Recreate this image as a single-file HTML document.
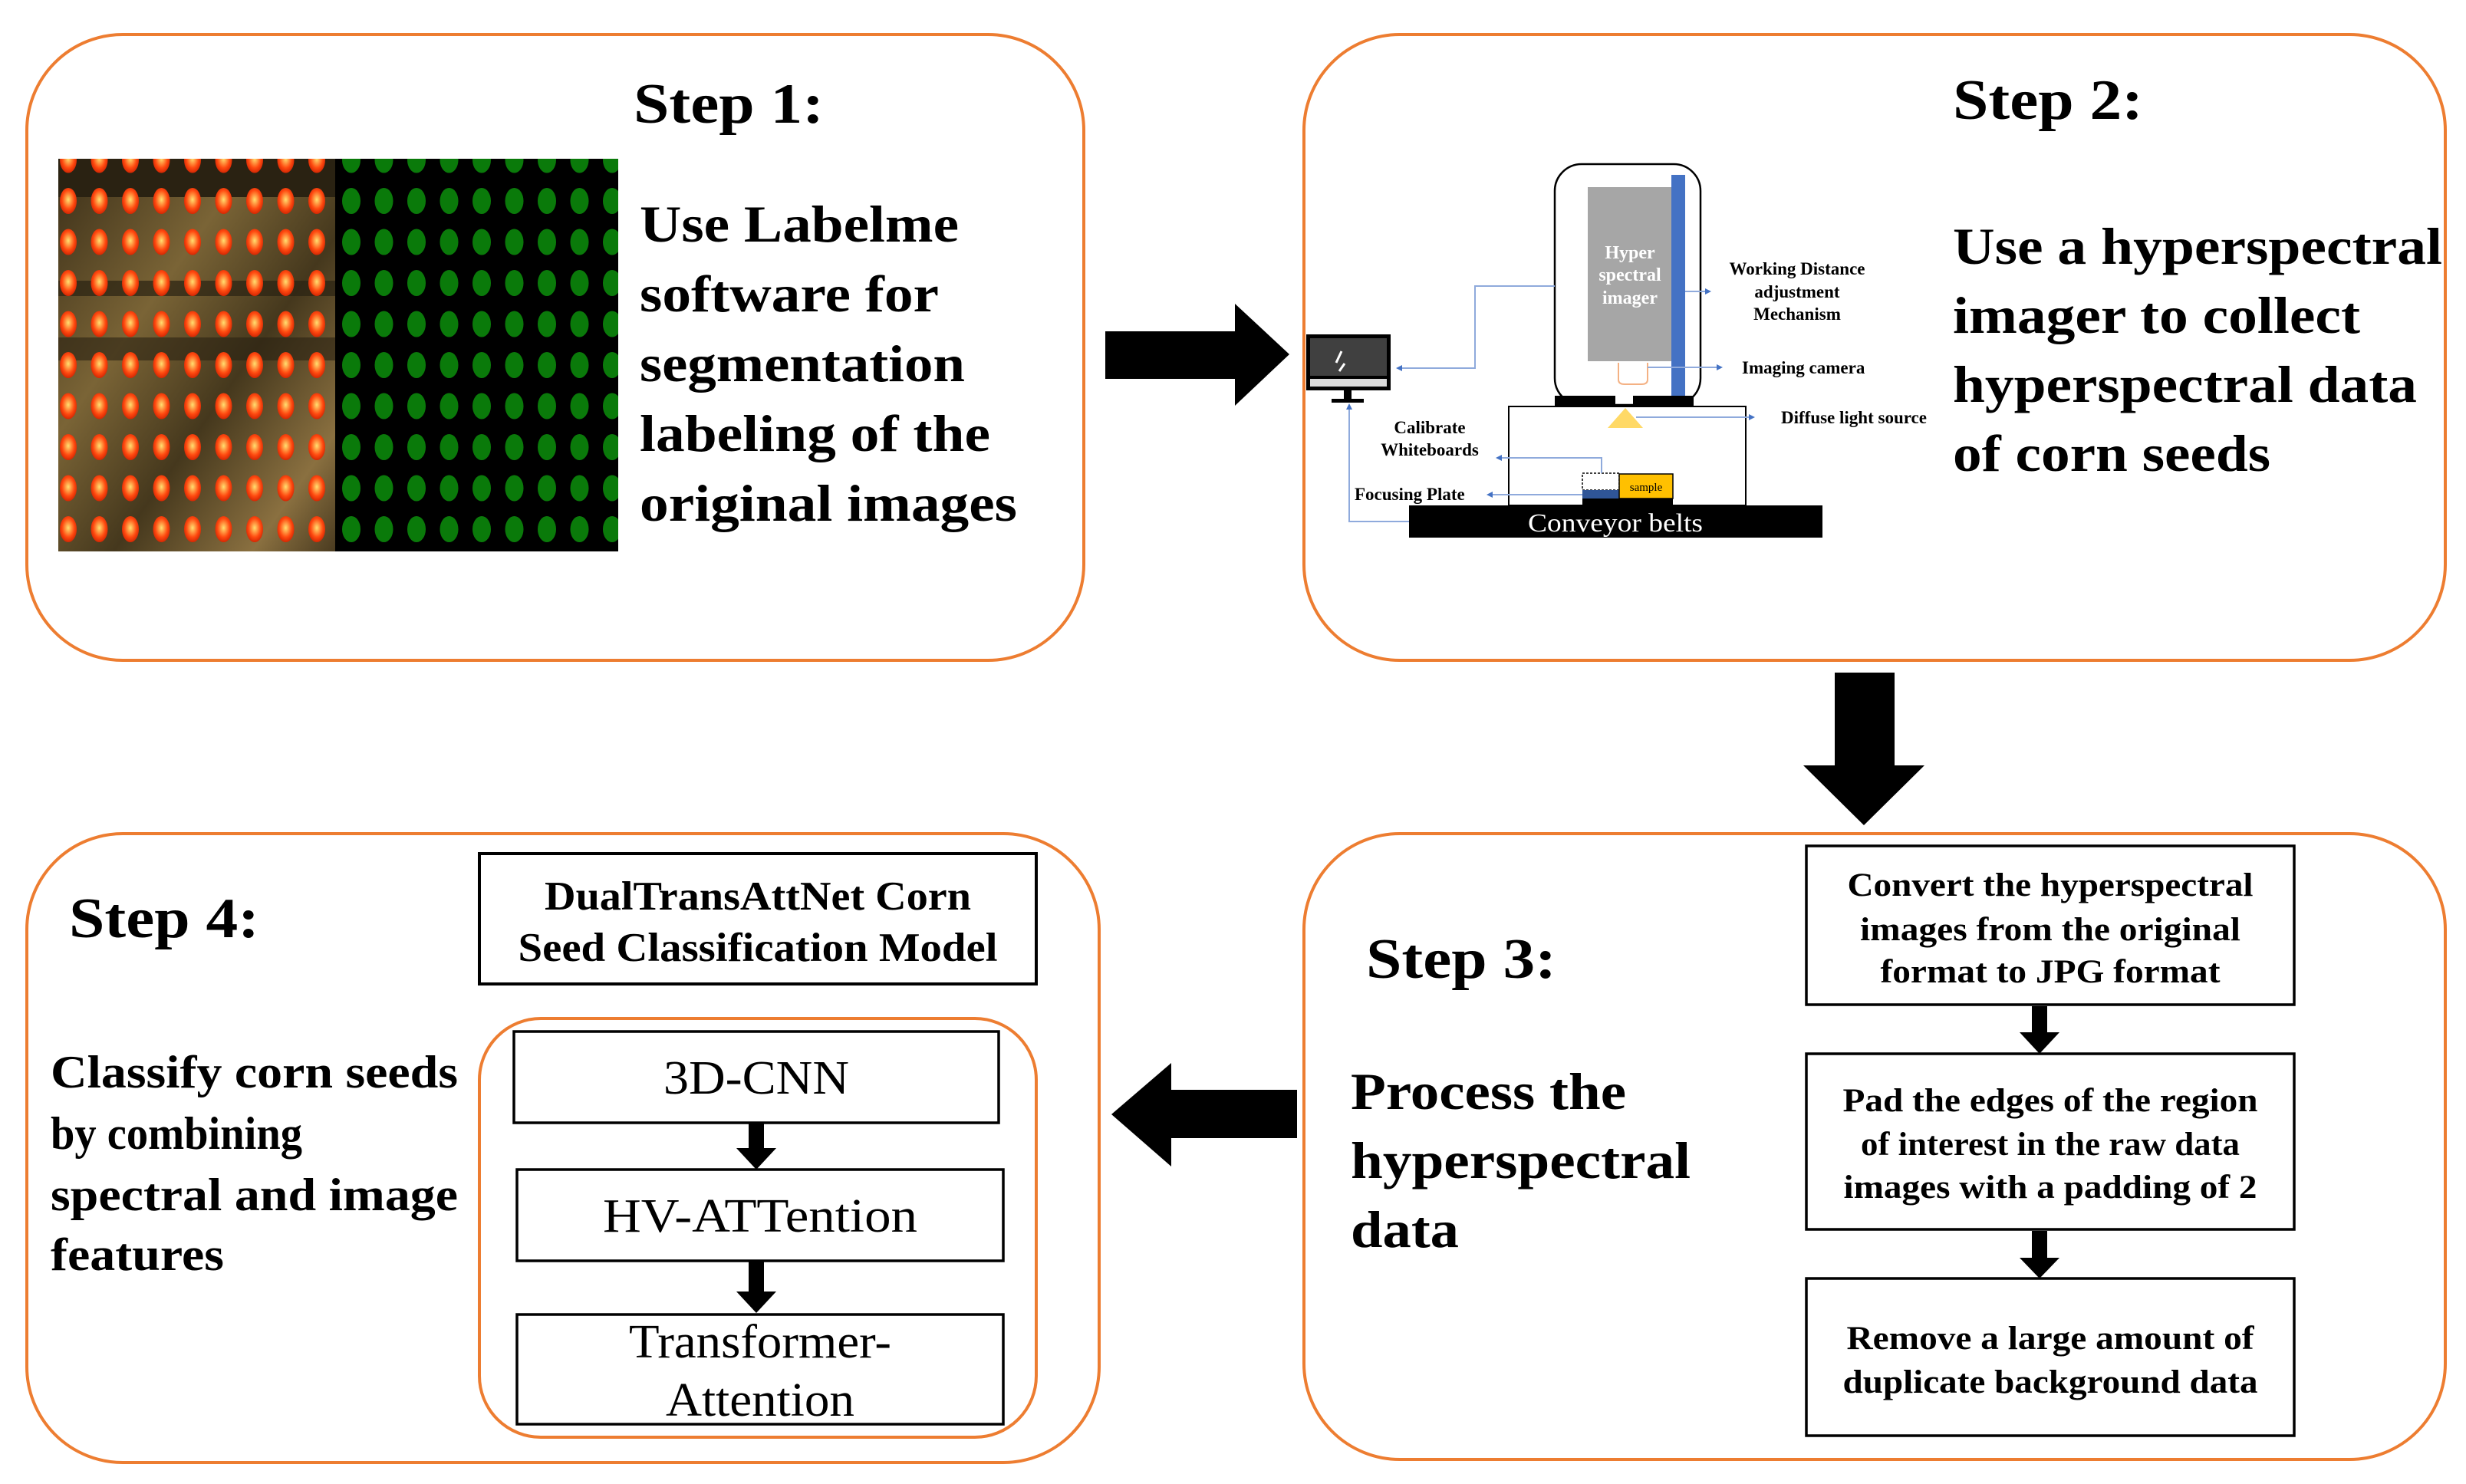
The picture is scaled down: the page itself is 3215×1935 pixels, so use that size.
<!DOCTYPE html>
<html><head><meta charset="utf-8"><style>
html,body{margin:0;padding:0;background:#fff;font-family:"Liberation Serif","DejaVu Serif",serif}
svg{display:block;font-family:"Liberation Serif","DejaVu Serif",serif}
svg text{font-family:"Liberation Serif","DejaVu Serif",serif}
</style></head><body>
<svg width="3215" height="1935" viewBox="0 0 3215 1935" xmlns="http://www.w3.org/2000/svg" font-family="Liberation Serif, DejaVu Serif, serif">
<defs>
<radialGradient id="gl" cx="0.5" cy="0.45" r="0.6">
<stop offset="0" stop-color="#ffe070"/><stop offset="0.6" stop-color="#ff4a10"/><stop offset="1" stop-color="#c81e00"/>
</radialGradient>
<pattern id="pr" patternUnits="userSpaceOnUse" x="69" y="234" width="40.5" height="53.5">
<ellipse cx="20" cy="28" rx="11" ry="17" fill="url(#gl)"/>
</pattern>
<pattern id="pg" patternUnits="userSpaceOnUse" x="437" y="234" width="42.5" height="53.5">
<ellipse cx="21" cy="28" rx="12" ry="17" fill="#0a7a0a"/>
</pattern>
<linearGradient id="bg1" x1="0" y1="0" x2="1" y2="1">
<stop offset="0" stop-color="#3a2e18"/><stop offset="0.35" stop-color="#7a6436"/><stop offset="0.6" stop-color="#45381d"/><stop offset="0.85" stop-color="#8a7040"/><stop offset="1" stop-color="#4a3b20"/>
</linearGradient>
</defs>

<g fill="none" stroke="#ED7D31" stroke-width="4">
<rect x="35" y="45" width="1378" height="816" rx="125"/>
<rect x="1700" y="45" width="1488" height="816" rx="125"/>
<rect x="35" y="1087" width="1398" height="820" rx="125"/>
<rect x="1700" y="1087" width="1488" height="816" rx="125"/>
</g>

<g font-weight="bold" lengthAdjust="spacingAndGlyphs">
<text x="826" y="160" font-size="74" textLength="248" lengthAdjust="spacingAndGlyphs">Step 1:</text>
<text x="2546" y="155" font-size="74" textLength="248" lengthAdjust="spacingAndGlyphs">Step 2:</text>
<text x="1781" y="1275" font-size="74" textLength="248" lengthAdjust="spacingAndGlyphs">Step 3:</text>
<text x="90" y="1222" font-size="74" textLength="248" lengthAdjust="spacingAndGlyphs">Step 4:</text>
</g>
<g font-size="68" font-weight="bold">
<text x="834" y="315" textLength="416" lengthAdjust="spacingAndGlyphs">Use Labelme</text>
<text x="834" y="406" textLength="390" lengthAdjust="spacingAndGlyphs">software for</text>
<text x="834" y="497" textLength="424" lengthAdjust="spacingAndGlyphs">segmentation</text>
<text x="834" y="588" textLength="457" lengthAdjust="spacingAndGlyphs">labeling of the</text>
<text x="834" y="679" textLength="492" lengthAdjust="spacingAndGlyphs">original images</text>
</g>
<rect x="76" y="207" width="361" height="512" fill="url(#bg1)"/>
<rect x="76" y="207" width="361" height="50" fill="#2a2212"/>
<rect x="76" y="366" width="361" height="20" fill="#2a2212" opacity="0.7"/>
<rect x="76" y="440" width="361" height="30" fill="#2a2212" opacity="0.6"/>
<rect x="76" y="207" width="361" height="512" fill="url(#pr)"/>
<rect x="437" y="207" width="369" height="512" fill="#000"/>
<rect x="437" y="207" width="369" height="512" fill="url(#pg)"/>

<polygon points="1441,432 1610,432 1610,396 1681,462 1610,529 1610,494 1441,494" fill="#000"/>

<g font-size="68" font-weight="bold">
<text x="2546" y="344" textLength="638" lengthAdjust="spacingAndGlyphs">Use a hyperspectral</text>
<text x="2546" y="434" textLength="531" lengthAdjust="spacingAndGlyphs">imager to collect</text>
<text x="2546" y="524" textLength="605" lengthAdjust="spacingAndGlyphs">hyperspectral data</text>
<text x="2546" y="614" textLength="414" lengthAdjust="spacingAndGlyphs">of corn seeds</text>
</g>

<g>
<rect x="2027" y="214" width="190" height="314" rx="35" fill="#fff" stroke="#000" stroke-width="2.5"/>
<rect x="2070" y="244" width="109" height="227" fill="#a6a6a6"/>
<rect x="2179" y="228" width="18" height="290" fill="#4472C4"/>
<g fill="#fff" font-size="24" font-weight="bold" text-anchor="middle">
<text x="2125" y="337">Hyper</text>
<text x="2125" y="366">spectral</text>
<text x="2125" y="396">imager</text>
</g>
<path d="M2110,473 V495 Q2110,501 2118,501 H2140 Q2148,501 2148,495 V473" fill="none" stroke="#F4B183" stroke-width="2"/>
<rect x="2027" y="516" width="79" height="14" fill="#000"/>
<rect x="2129" y="516" width="79" height="14" fill="#000"/>
<rect x="1967" y="530" width="309" height="129" fill="#fff" stroke="#000" stroke-width="2"/>
<polygon points="2119,532 2096,558 2142,558" fill="#FFD966"/>
<rect x="1837" y="659" width="539" height="42" fill="#000"/>
<text x="2106" y="693" fill="#fff" font-size="34" text-anchor="middle" textLength="228" lengthAdjust="spacingAndGlyphs">Conveyor belts</text>
<rect x="2063" y="617" width="48" height="22" fill="#fff" stroke="#000" stroke-width="1.5" stroke-dasharray="3,2"/>
<rect x="2063" y="639" width="48" height="11" fill="#2F5597"/>
<rect x="2111" y="618" width="70" height="32" fill="#FFC000" stroke="#000" stroke-width="1.5"/>
<text x="2146" y="640" font-size="15" text-anchor="middle" font-family="Liberation Sans, sans-serif">sample</text>
<rect x="2063" y="650" width="118" height="9" fill="#000"/>
<rect x="1703" y="436" width="110" height="73" fill="#000"/>
<rect x="1708" y="441" width="100" height="49" fill="#404040"/>
<rect x="1708" y="494" width="100" height="10" fill="#d9d9d9"/>
<line x1="1749" y1="458" x2="1742" y2="473" stroke="#fff" stroke-width="3"/>
<line x1="1753" y1="474" x2="1746" y2="484" stroke="#fff" stroke-width="3"/>
<rect x="1752" y="509" width="10" height="12" fill="#000"/>
<rect x="1736" y="520" width="42" height="5" fill="#000"/>
<g fill="none" stroke="#8FAADC" stroke-width="2">
<polyline points="2027,373 1923,373 1923,480 1826,480"/>
<line x1="2197" y1="380" x2="2224" y2="380"/>
<line x1="2148" y1="479" x2="2239" y2="479"/>
<line x1="2133" y1="544" x2="2281" y2="544"/>
<polyline points="2088,617 2088,597 1956,597"/>
<line x1="2063" y1="645" x2="1944" y2="645"/>
<polyline points="1837,680 1759,680 1759,532"/>
</g>
<g fill="#4472C4">
<polygon points="1820,480 1828,476 1828,484"/>
<polygon points="2231,380 2223,376 2223,384"/>
<polygon points="2246,479 2238,475 2238,483"/>
<polygon points="2288,544 2280,540 2280,548"/>
<polygon points="1950,597 1958,593 1958,601"/>
<polygon points="1938,645 1946,641 1946,649"/>
<polygon points="1759,526 1755,534 1763,534"/>
</g>
<g font-size="23" font-weight="bold" text-anchor="middle">
<text x="2343" y="358">Working Distance</text>
<text x="2343" y="388">adjustment</text>
<text x="2343" y="417">Mechanism</text>
<text x="1864" y="565">Calibrate</text>
<text x="1864" y="594">Whiteboards</text>
</g>
<g font-size="23" font-weight="bold">
<text x="2271" y="487">Imaging camera</text>
<text x="2322" y="552">Diffuse light source</text>
<text x="1766" y="652">Focusing Plate</text>
</g>
</g>

<polygon points="2392,877 2470,877 2470,998 2509,998 2430,1076 2351,998 2392,998" fill="#000"/>

<g font-size="68" font-weight="bold">
<text x="1761" y="1446" textLength="359" lengthAdjust="spacingAndGlyphs">Process the</text>
<text x="1761" y="1536" textLength="443" lengthAdjust="spacingAndGlyphs">hyperspectral</text>
<text x="1761" y="1626" textLength="141" lengthAdjust="spacingAndGlyphs">data</text>
</g>
<g fill="none" stroke="#000" stroke-width="3.5">
<rect x="2355" y="1103" width="636" height="207"/>
<rect x="2355" y="1374" width="636" height="229"/>
<rect x="2355" y="1667" width="636" height="205"/>
</g>
<g font-size="43" font-weight="bold" text-anchor="middle">
<text x="2673" y="1168" textLength="529" lengthAdjust="spacingAndGlyphs">Convert the hyperspectral</text>
<text x="2673" y="1226" textLength="496" lengthAdjust="spacingAndGlyphs">images from the original</text>
<text x="2673" y="1281" textLength="443" lengthAdjust="spacingAndGlyphs">format to JPG format</text>
<text x="2673" y="1449" textLength="541" lengthAdjust="spacingAndGlyphs">Pad the edges of the region</text>
<text x="2673" y="1506" textLength="494" lengthAdjust="spacingAndGlyphs">of interest in the raw data</text>
<text x="2673" y="1562" textLength="539" lengthAdjust="spacingAndGlyphs">images with a padding of 2</text>
<text x="2673" y="1759" textLength="531" lengthAdjust="spacingAndGlyphs">Remove a large amount of</text>
<text x="2673" y="1816" textLength="541" lengthAdjust="spacingAndGlyphs">duplicate background data</text>
</g>
<polygon points="2649,1312 2669,1312 2669,1346 2685,1346 2659,1374 2633,1346 2649,1346" fill="#000"/>
<polygon points="2649,1605 2669,1605 2669,1640 2685,1640 2659,1667 2633,1640 2649,1640" fill="#000"/>

<polygon points="1691,1421 1527,1421 1527,1386 1449,1453 1527,1521 1527,1484 1691,1484" fill="#000"/>

<g font-size="60" font-weight="bold">
<text x="66" y="1418" textLength="531" lengthAdjust="spacingAndGlyphs">Classify corn seeds</text>
<text x="66" y="1498" textLength="328" lengthAdjust="spacingAndGlyphs">by combining</text>
<text x="66" y="1578" textLength="531" lengthAdjust="spacingAndGlyphs">spectral and image</text>
<text x="66" y="1656" textLength="226" lengthAdjust="spacingAndGlyphs">features</text>
</g>
<rect x="625" y="1113" width="726" height="170" fill="none" stroke="#000" stroke-width="4"/>
<g font-size="53" font-weight="bold" text-anchor="middle">
<text x="988" y="1186" textLength="556" lengthAdjust="spacingAndGlyphs">DualTransAttNet Corn</text>
<text x="988" y="1253" textLength="625" lengthAdjust="spacingAndGlyphs">Seed Classification Model</text>
</g>
<rect x="625" y="1328" width="726" height="546" rx="80" fill="none" stroke="#ED7D31" stroke-width="4"/>
<g fill="none" stroke="#000" stroke-width="3.5">
<rect x="670" y="1345" width="632" height="119"/>
<rect x="674" y="1525" width="634" height="119"/>
<rect x="674" y="1714" width="634" height="143"/>
</g>
<g font-size="62" text-anchor="middle">
<text x="986" y="1426" textLength="242" lengthAdjust="spacingAndGlyphs">3D-CNN</text>
<text x="991" y="1606" textLength="410" lengthAdjust="spacingAndGlyphs">HV-ATTention</text>
<text x="991" y="1770" textLength="342" lengthAdjust="spacingAndGlyphs">Transformer-</text>
<text x="991" y="1846" textLength="246" lengthAdjust="spacingAndGlyphs">Attention</text>
</g>
<polygon points="976,1464 996,1464 996,1497 1012,1497 986,1525 960,1497 976,1497" fill="#000"/>
<polygon points="976,1644 996,1644 996,1684 1012,1684 986,1712 960,1684 976,1684" fill="#000"/>
</svg>
</body></html>
